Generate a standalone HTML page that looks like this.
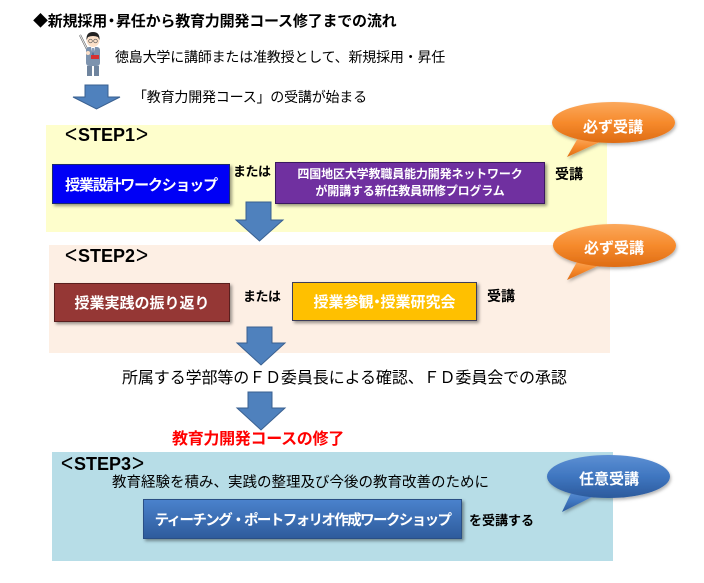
<!DOCTYPE html>
<html><head><meta charset="utf-8">
<style>
html,body{margin:0;padding:0;background:#fff;}
body{width:704px;height:583px;position:relative;overflow:hidden;font-family:"Liberation Sans","Noto Sans CJK JP",sans-serif;color:#000;}
.a{position:absolute;white-space:nowrap;}
.box{position:absolute;display:flex;align-items:center;justify-content:center;color:#fff;font-weight:bold;box-shadow:2px 2px 3px rgba(0,0,0,0.4);box-sizing:border-box;}
.step{position:absolute;font-weight:bold;font-size:18px;line-height:20px;white-space:nowrap;}
.step .br{font-weight:normal;font-size:21px;display:inline-block;width:14px;text-align:center;transform:scaleY(1.15);}
</style></head><body>

<!-- backgrounds -->
<div class="a" style="left:46px;top:125px;width:561px;height:107px;background:#FEFECC;"></div>
<div class="a" style="left:49px;top:245px;width:561px;height:108px;background:#FDEFE4;"></div>
<div class="a" style="left:52px;top:452px;width:561px;height:109px;background:#B7DDE7;"></div>

<!-- title -->
<div class="a" style="left:33px;top:12px;font-size:15px;line-height:19px;font-weight:bold;letter-spacing:-0.2px;">◆新規採用<span style="letter-spacing:-7px;margin-left:-3px;">・</span>&nbsp;昇任から教育力開発コース修了までの流れ</div>

<!-- person -->
<svg class="a" style="left:76px;top:28px;" width="30" height="50" viewBox="76 28 30 50">
  <line x1="80" y1="35" x2="89" y2="53" stroke="#555" stroke-width="2"/>
  <line x1="80" y1="35" x2="89" y2="53" stroke="#eee" stroke-width="1"/>
  <rect x="86" y="47" width="14" height="19" rx="3" fill="#7D93AE"/>
  <polygon points="91,47 95,47 93,56" fill="#fff"/>
  <line x1="93" y1="48" x2="93" y2="55" stroke="#3a5a8a" stroke-width="1.2"/>
  <rect x="87" y="66" width="5" height="10" fill="#6F849E"/>
  <rect x="94" y="66" width="5" height="10" fill="#6F849E"/>
  <rect x="91" y="55" width="8" height="4" fill="#D83030"/>
  <circle cx="88" cy="53" r="2" fill="#FCE0C8"/>
  <ellipse cx="93" cy="40" rx="6.5" ry="7" fill="#FCE0C8"/>
  <path d="M86.5 40 Q86 32 93 32 Q100 32 99.5 40 L98 37 Q93 35 88 37 Z" fill="#222"/>
  <circle cx="90.5" cy="41" r="1.8" fill="none" stroke="#555" stroke-width="0.7"/>
  <circle cx="95.5" cy="41" r="1.8" fill="none" stroke="#555" stroke-width="0.7"/>
</svg>

<div class="a" style="left:115px;top:49px;font-size:14px;line-height:16px;letter-spacing:-0.2px;">徳島大学に講師または准教授として、新規採用・昇任</div>
<div class="a" style="left:133px;top:89px;font-size:14px;line-height:16px;letter-spacing:-0.2px;">「教育力開発コース」の受講が始まる</div>

<!-- arrows -->
<svg class="a" style="left:0;top:0;" width="704" height="583">
  <g fill="#4F81BD" stroke="#3A6090" stroke-width="1">
    <polygon points="85,85 108,85 108,97 120,97 96.5,109 73,97 85,97"/>
    <polygon points="246,202 271,202 271,220 283,220 259.5,241 236,220 246,220"/>
    <polygon points="247,327 272,327 272,343 285,343 261,365 237,343 247,343"/>
    <polygon points="248,392 272,392 272,408 285,408 261,430 237,408 248,408"/>
  </g>
</svg>

<!-- STEP1 -->
<div class="step" style="left:64px;top:125px;"><span class="br">&lt;</span>STEP1<span class="br">&gt;</span></div>
<div class="box" style="left:52px;top:164px;width:178px;height:40px;background:#0000F6;border:1px solid #1a2a70;font-size:15px;letter-spacing:-1.2px;">授業設計ワークショップ</div>
<div class="a" style="left:233px;top:164px;font-size:13px;line-height:15px;font-weight:bold;letter-spacing:-0.5px;">または</div>
<div class="box" style="left:275px;top:162px;width:270px;height:42px;background:#7030A0;border:1px solid #3a1860;font-size:12px;line-height:17px;text-align:center;flex-direction:column;letter-spacing:-0.15px;"><div>四国地区大学教職員能力開発ネットワーク</div><div>が開講する新任教員研修プログラム</div></div>
<div class="a" style="left:555px;top:166px;font-size:14px;line-height:16px;font-weight:bold;">受講</div>

<!-- STEP2 -->
<div class="step" style="left:64px;top:246px;"><span class="br">&lt;</span>STEP2<span class="br">&gt;</span></div>
<div class="box" style="left:54px;top:283px;width:176px;height:39px;background:#953735;border:1px solid #5a1f1e;font-size:15px;">授業実践の振り返り</div>
<div class="a" style="left:243px;top:289px;font-size:13px;line-height:15px;font-weight:bold;letter-spacing:-0.5px;">または</div>
<div class="box" style="left:292px;top:282px;width:185px;height:39px;background:#FFC000;border:1px solid #3d3d5a;font-size:15px;">授業参観<span style="margin:0 -4px;">・</span>授業研究会</div>
<div class="a" style="left:487px;top:288px;font-size:14px;line-height:16px;font-weight:bold;">受講</div>

<!-- middle texts -->
<div class="a" style="left:122px;top:370px;font-size:16px;line-height:17px;letter-spacing:-0.1px;">所属する学部等のＦＤ委員長による確認、ＦＤ委員会での承認</div>
<div class="a" style="left:172px;top:431px;font-size:16px;line-height:18px;font-weight:bold;color:#FF0000;letter-spacing:-0.3px;">教育力開発コースの修了</div>

<!-- STEP3 -->
<div class="step" style="left:60px;top:454px;"><span class="br">&lt;</span>STEP3<span class="br">&gt;</span></div>
<div class="a" style="left:112px;top:475px;font-size:14.5px;line-height:16px;">教育経験を積み、実践の整理及び今後の教育改善のために</div>
<div class="box" style="left:143px;top:499px;width:319px;height:40px;background:linear-gradient(#4A82CC,#2E5C9C);border:1px solid #2a4f85;font-size:14.5px;letter-spacing:-1.6px;">ティーチング・ポートフォリオ作成ワークショップ</div>
<div class="a" style="left:469px;top:513px;font-size:13px;line-height:16px;font-weight:bold;">を受講する</div>

<!-- bubbles -->
<svg class="a" style="left:0;top:0;" width="704" height="583">
  <defs>
    <linearGradient id="og" x1="0" y1="0" x2="0" y2="1">
      <stop offset="0" stop-color="#FBA85C"/>
      <stop offset="0.5" stop-color="#F68A2C"/>
      <stop offset="1" stop-color="#DE6C14"/>
    </linearGradient>
    <linearGradient id="bg" x1="0" y1="0" x2="0" y2="1">
      <stop offset="0" stop-color="#5C8FD3"/>
      <stop offset="0.5" stop-color="#3F76C0"/>
      <stop offset="1" stop-color="#2C5A9C"/>
    </linearGradient>
    <filter id="sh" x="-20%" y="-20%" width="140%" height="150%">
      <feDropShadow dx="1" dy="2" stdDeviation="1.5" flood-color="#000" flood-opacity="0.3"/>
    </filter>
  </defs>
  <g filter="url(#sh)">
    <path d="M578,138 L567,157 L600,142 Z" fill="url(#og)"/>
    <ellipse cx="613.5" cy="122.5" rx="61.5" ry="20.5" fill="url(#og)"/>
    <path d="M578,260 L567,280 L600,265 Z" fill="url(#og)"/>
    <ellipse cx="614.5" cy="245.5" rx="61.5" ry="21.5" fill="url(#og)"/>
    <path d="M572,491 L562,512 L594,496 Z" fill="url(#bg)"/>
    <ellipse cx="608.5" cy="476.5" rx="61.5" ry="21.5" fill="url(#bg)"/>
  </g>
  <g font-family="Liberation Sans, Noto Sans CJK JP, sans-serif" font-weight="bold" font-size="15" fill="#fff" text-anchor="middle">
    <text x="613" y="132">必ず受講</text>
    <text x="614" y="253">必ず受講</text>
    <text x="609" y="484">任意受講</text>
  </g>
</svg>

</body></html>
